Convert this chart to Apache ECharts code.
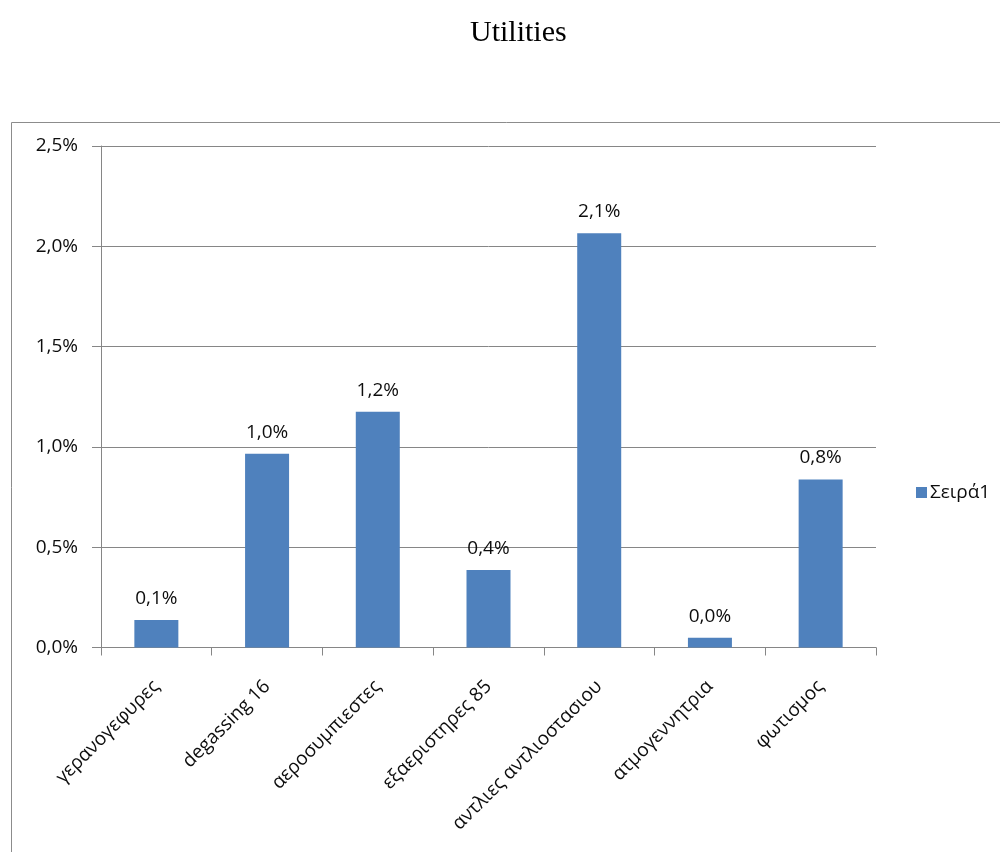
<!DOCTYPE html>
<html>
<head>
<meta charset="utf-8">
<script src="https://cdn.jsdelivr.net/npm/echarts@6/dist/echarts.min.js"></script>
<style>
  html, body { margin: 0; padding: 0; background: #fff; }
  #chart { width: 1000px; height: 852px; }
</style>
</head>
<body>
<div id="chart"></div>
<script>
// Share of consumption per utility (percent)
const categories = [
  'γερανογεφυρες',
  'degassing 16',
  'αεροσυμπιεστες',
  'εξαεριστηρες 85',
  'αντλιες αντλιοστασιου',
  'ατμογεννητρια',
  'φωτισμος'
];
const seriesName = 'Σειρά1';
const values = [0.137, 0.966, 1.175, 0.386, 2.065, 0.049, 0.838];
const yTicks = { min: 0, max: 2.5, interval: 0.5 };

const pct = v => v.toFixed(1).replace('.', ',') + '%';
const textFont = '"Open Sans", "Noto Sans", sans-serif';
const textColor = '#0d0d0d';

const chart = echarts.init(document.getElementById('chart'), null, { renderer: 'canvas' });
chart.setOption({
  animation: false,
  backgroundColor: '#ffffff',
  title: {
    text: 'Utilities',
    left: 465,
    top: 13,
    textStyle: {
      fontFamily: '"Liberation Serif", "DejaVu Serif", serif',
      fontSize: 30,
      fontWeight: 'normal',
      color: '#000'
    }
  },
  graphic: [{
    type: 'rect',
    shape: { x: 11.5, y: 122.5, width: 1000, height: 800 },
    style: { fill: 'none', stroke: '#8c8c8c', lineWidth: 1 },
    silent: true,
    z: -1
  }],
  legend: {
    left: 911,
    top: 478,
    orient: 'vertical',
    itemWidth: 11,
    itemHeight: 11,
    itemGap: 4,
    icon: 'rect',
    textStyle: { fontFamily: textFont, fontSize: 19, color: textColor, padding: [0, 0, 0, -2] },
    data: [seriesName]
  },
  grid: { left: 101, right: 124, top: 146, bottom: 204.5, containLabel: false },
  xAxis: {
    type: 'category',
    data: categories,
    boundaryGap: true,
    axisLine: { lineStyle: { color: '#868686', width: 1 } },
    axisTick: { show: true, length: 8, alignWithLabel: false, lineStyle: { color: '#868686' } },
    axisLabel: {
      rotate: 45,
      interval: 0,
      margin: 36,
      fontFamily: textFont,
      fontSize: 19,
      color: textColor
    }
  },
  yAxis: {
    type: 'value',
    min: yTicks.min,
    max: yTicks.max,
    interval: yTicks.interval,
    axisLine: { show: true, lineStyle: { color: '#868686', width: 1 } },
    axisTick: { show: true, length: 9, lineStyle: { color: '#868686' } },
    splitLine: { show: true, lineStyle: { color: '#868686', width: 1 } },
    axisLabel: {
      margin: 23,
      fontFamily: textFont,
      fontSize: 19,
      color: textColor,
      formatter: v => pct(v)
    }
  },
  series: [{
    name: seriesName,
    type: 'bar',
    data: values,
    barWidth: 44,
    itemStyle: { color: '#4f81bd' },
    label: {
      show: true,
      position: 'top',
      distance: 12,
      fontFamily: textFont,
      fontSize: 19,
      color: textColor,
      formatter: p => pct(p.value)
    }
  }]
});
</script>
</body>
</html>
